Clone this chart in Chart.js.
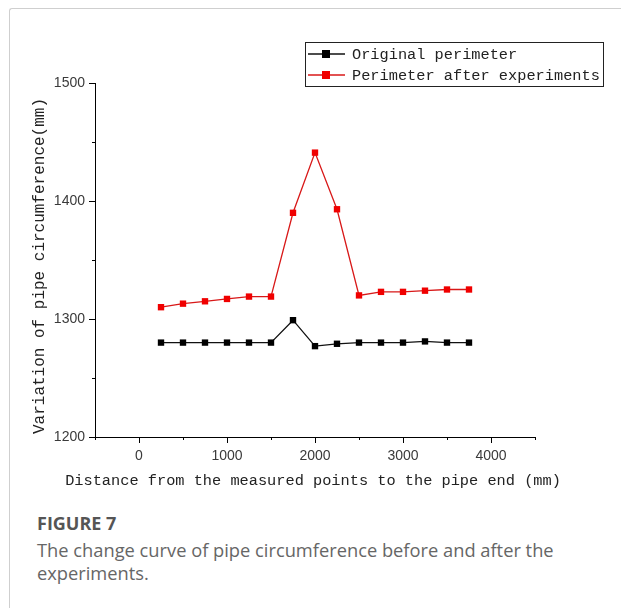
<!DOCTYPE html>
<html>
<head>
<meta charset="utf-8">
<script src="https://cdn.jsdelivr.net/npm/chart.js@4.4.0/dist/chart.umd.min.js"></script>
<style>
  html, body { margin: 0; padding: 0; background: #fff; }
  body { width: 621px; height: 608px; position: relative; overflow: hidden; }
  .frame { position: absolute; left: 9px; top: 8px; width: 700px; height: 700px;
    border-left: 1px solid #cfcfcf; border-top: 1px solid #cfcfcf; border-top-left-radius: 3px; }
  #wrap { position: absolute; left: 0; top: 0; width: 621px; height: 500px; }
  .caption { position: absolute; left: 37px; top: 511px; font-family: "Open Sans", sans-serif; color: #666; }
  .caption h4 { margin: 0; font-size: 18px; font-weight: 700; color: #555; line-height: 24px; }
  .caption p { margin: 3px 0 0 0; font-size: 18.3px; line-height: 23px; }
</style>
</head>
<body>
<div class="frame"></div>
<div id="wrap"><canvas id="chart" width="621" height="500"></canvas></div>
<div class="caption">
  <h4>FIGURE 7</h4>
  <p>The change curve of pipe circumference before and after the<br>experiments.</p>
</div>
<script>
// measured points (mm from pipe end)
const distances = [250, 500, 750, 1000, 1250, 1500, 1750, 2000, 2250, 2500, 2750, 3000, 3250, 3500, 3750];
const originalPerimeter = [1280, 1280, 1280, 1280, 1280, 1280, 1299, 1277, 1279, 1280, 1280, 1280, 1281, 1280, 1280];
const afterPerimeter = [1310, 1313, 1315, 1317, 1319, 1319, 1390, 1441, 1393, 1320, 1323, 1323, 1324, 1325, 1325];
const seriesLabels = ['Original perimeter', 'Perimeter after experiments'];
const xTitle = 'Distance from the measured points to the pipe end (mm)';
const yTitle = 'Variation of pipe circumference(mm)';
const xLabelStep = 1000;
const yLabelStep = 100;

const toPoints = vals => distances.map((d, i) => ({ x: d, y: vals[i] }));
const monoFont = '"Liberation Mono", monospace';

// minor ticks are drawn shorter than the labelled ones
const minorTicks = {
  id: 'minorTicks',
  afterDraw(chart) {
    const c = chart.ctx;
    const xs = chart.scales.x, ys = chart.scales.y;
    c.save();
    c.strokeStyle = '#000';
    c.lineWidth = 1;
    xs.ticks.forEach(t => {
      if (t.value % xLabelStep === 0) return;
      const px = Math.round(xs.getPixelForValue(t.value)) + 0.5;
      c.beginPath(); c.moveTo(px, xs.top); c.lineTo(px, xs.top + 3); c.stroke();
    });
    ys.ticks.forEach(t => {
      if (t.value % yLabelStep === 0) return;
      const py = Math.round(ys.getPixelForValue(t.value)) + 0.5;
      c.beginPath(); c.moveTo(ys.right, py); c.lineTo(ys.right - 3, py); c.stroke();
    });
    c.restore();
  }
};

// axis titles, drawn by hand so the long x title is not squeezed to the axis width
const axisTitles = {
  id: 'axisTitles',
  afterDraw(chart) {
    const c = chart.ctx;
    const xs = chart.scales.x, ys = chart.scales.y;
    c.save();
    c.fillStyle = '#222';
    c.textAlign = 'center';
    c.textBaseline = 'middle';
    c.font = '15.3px ' + monoFont;
    c.fillText(xTitle, (xs.left + xs.right) / 2 - 2, 481);
    c.translate(40, (ys.top + ys.bottom) / 2 + 6);
    c.rotate(-Math.PI / 2);
    c.font = '16px ' + monoFont;
    c.fillText(yTitle, 0, 0);
    c.restore();
  }
};

// boxed legend in the top right corner
const boxLegend = {
  id: 'boxLegend',
  afterDraw(chart) {
    const c = chart.ctx;
    c.save();
    c.strokeStyle = '#222';
    c.lineWidth = 1;
    c.strokeRect(305.5, 42.5, 298, 44);
    c.font = '15.3px ' + monoFont;
    c.textBaseline = 'middle';
    chart.data.datasets.forEach((ds, i) => {
      const y = 54 + i * 21;
      c.strokeStyle = ds.borderColor;
      c.lineWidth = 1.3;
      c.beginPath(); c.moveTo(308, y); c.lineTo(345, y); c.stroke();
      c.fillStyle = ds.backgroundColor;
      c.fillRect(322, y - 4, 8, 8);
      c.fillStyle = '#222';
      c.fillText(ds.label, 352, y + 1);
    });
    c.restore();
  }
};

const ctx = document.getElementById('chart').getContext('2d');

new Chart(ctx, {
  type: 'line',
  data: {
    datasets: [
      {
        label: seriesLabels[0],
        data: toPoints(originalPerimeter),
        borderColor: '#111',
        backgroundColor: '#000',
        borderWidth: 1.3,
        pointStyle: 'rect',
        pointRadius: 4.5,
        pointBorderWidth: 0,
        tension: 0
      },
      {
        label: seriesLabels[1],
        data: toPoints(afterPerimeter),
        borderColor: '#d81818',
        backgroundColor: '#f00000',
        borderWidth: 1.3,
        pointStyle: 'rect',
        pointRadius: 4.5,
        pointBorderWidth: 0,
        tension: 0
      }
    ]
  },
  options: {
    responsive: false,
    animation: false,
    devicePixelRatio: 1,
    layout: { padding: { top: 83, right: 86, left: 0, bottom: 0 } },
    plugins: {
      legend: { display: false },
      tooltip: { enabled: false }
    },
    scales: {
      x: {
        type: 'linear',
        min: -500,
        max: 4500,
        afterFit: s => { s.height = 63; },
        border: { color: '#000', width: 1 },
        grid: {
          drawOnChartArea: false,
          tickLength: 6,
          tickColor: c => (c.tick && c.tick.value % xLabelStep === 0) ? '#000' : 'rgba(0,0,0,0)'
        },
        ticks: {
          stepSize: 500,
          autoSkip: false,
          maxRotation: 0,
          padding: 5,
          color: '#3a3a3a',
          font: { family: '"Liberation Sans", Arial, sans-serif', size: 14 },
          callback: v => v % xLabelStep === 0 ? String(v) : ''
        }
      },
      y: {
        min: 1200,
        max: 1500,
        afterFit: s => { s.width = 95; },
        border: { color: '#000', width: 1 },
        grid: {
          drawOnChartArea: false,
          tickLength: 6,
          tickColor: c => (c.tick && c.tick.value % yLabelStep === 0) ? '#000' : 'rgba(0,0,0,0)'
        },
        ticks: {
          stepSize: 50,
          autoSkip: false,
          padding: 4,
          color: '#3a3a3a',
          font: { family: '"Liberation Sans", Arial, sans-serif', size: 14 },
          callback: v => v % yLabelStep === 0 ? String(v) : ''
        }
      }
    }
  },
  plugins: [minorTicks, axisTitles, boxLegend]
});
</script>
</body>
</html>
